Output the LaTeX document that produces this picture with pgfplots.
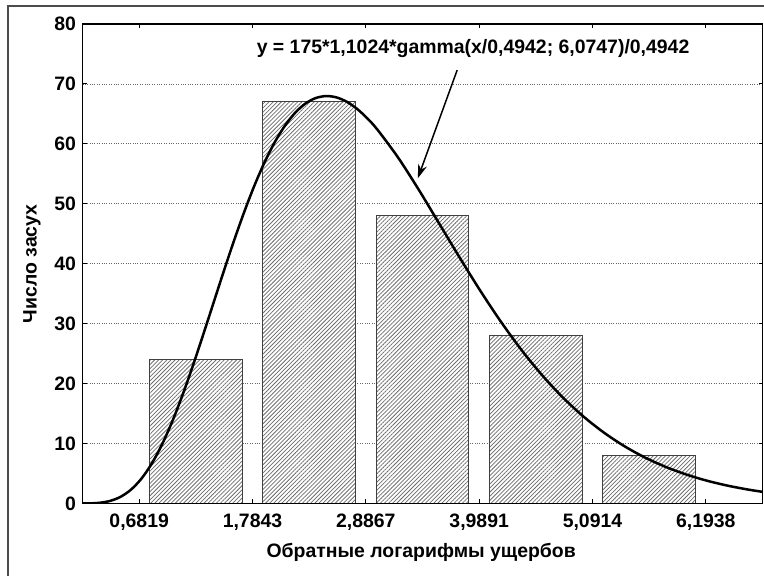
\documentclass[border=0pt]{standalone}
\usepackage{fontspec}
\setmainfont{Liberation Sans}
\usepackage{pgfplots}
\pgfplotsset{compat=1.18}
\usetikzlibrary{patterns.meta,arrows.meta}

\begin{document}
\begin{tikzpicture}[x=1bp,y=1bp]
\begin{axis}[
  at={(82.5bp,72.5bp)}, anchor=south west,
  scale only axis, width=680bp, height=479.5bp,
  xmin=0.1307, xmax=6.745, ymin=0, ymax=80,
  xtick={0.6819,1.7843,2.8867,3.9891,5.0914,6.1938},
  xticklabels={{0,6819},{1,7843},{2,8867},{3,9891},{5,0914},{6,1938}},
  ytick={0,10,20,30,40,50,60,70,80},
  tick align=inside, major tick length=4bp,
  tick style={black, line width=1bp},
  axis line style={line width=1.5bp},
  ymajorgrids, grid style={dotted, gray!80!black, line width=0.8bp},
  font=\fontsize{19.5}{22}\selectfont\bfseries,
  /pgf/number format/assume math mode=true,
  yticklabel style={xshift=-3bp},
  xticklabel style={yshift=-7bp},
  xlabel={Обратные логарифмы ущербов},
  ylabel={Число засух},
  xlabel style={at={(axis description cs:0.498,-0.1116)}, anchor=base},
  ylabel style={at={(axis description cs:-0.0743,0.5)}, anchor=center},
]
\addplot[ybar, bar width=0.9, fill=white, draw=gray!50!black, line width=0.9bp,
  postaction={pattern={Lines[angle=45,distance=2.9bp,line width=0.75bp]}, pattern color=gray!85!black}]
  coordinates {(1.2331,24) (2.3355,67) (3.4379,48) (4.5403,28) (5.6426,8)};

\addplot[black, line width=2.5bp, smooth] coordinates {
(0.1307,0.003) (0.2,0.019) (0.3,0.124) (0.4,0.436) (0.5,1.104) (0.6,2.275)
(0.7,4.063) (0.8,6.535) (0.9,9.704) (1.0,13.53) (1.1,17.93) (1.2,22.77)
(1.3,27.92) (1.4,33.21) (1.5,38.50) (1.6,43.63) (1.7,48.47) (1.8,52.92)
(1.9,56.87) (2.0,60.26) (2.1,63.04) (2.2,65.21) (2.3,66.74) (2.4,67.65)
(2.5,67.98) (2.6,67.76) (2.7,67.04) (2.8,65.86) (2.9,64.28) (3.0,62.36)
(3.2,57.73) (3.4,52.39) (3.6,46.71) (3.8,41.01) (4.0,35.50) (4.2,30.34)
(4.4,25.63) (4.6,21.43) (4.8,17.74) (5.0,14.56) (5.2,11.86) (5.4,9.580)
(5.6,7.687) (5.8,6.129) (6.0,4.856) (6.2,3.827) (6.4,3.000) (6.6,2.339)
(6.745,1.948)};

\node[font=\fontsize{19.5}{22}\selectfont\bfseries] at (axis cs:3.93,75.9)
  {y = 175*1,1024*gamma(x/0,4942; 6,0747)/0,4942};
\draw[line width=1.5bp, -{Stealth[length=14bp,width=9bp]}]
  (axis cs:3.775,72.3) -- (axis cs:3.392,54.25);
\draw[line width=1.5bp] (rel axis cs:0,0) rectangle (rel axis cs:1,1);
\end{axis}
\draw[gray!60!black, line width=2bp] (8bp,-20bp) -- (8bp,570bp) -- (800bp,570bp);
\pgfresetboundingbox
\useasboundingbox (0,0) rectangle (764bp,576bp);
\end{tikzpicture}
\end{document}
